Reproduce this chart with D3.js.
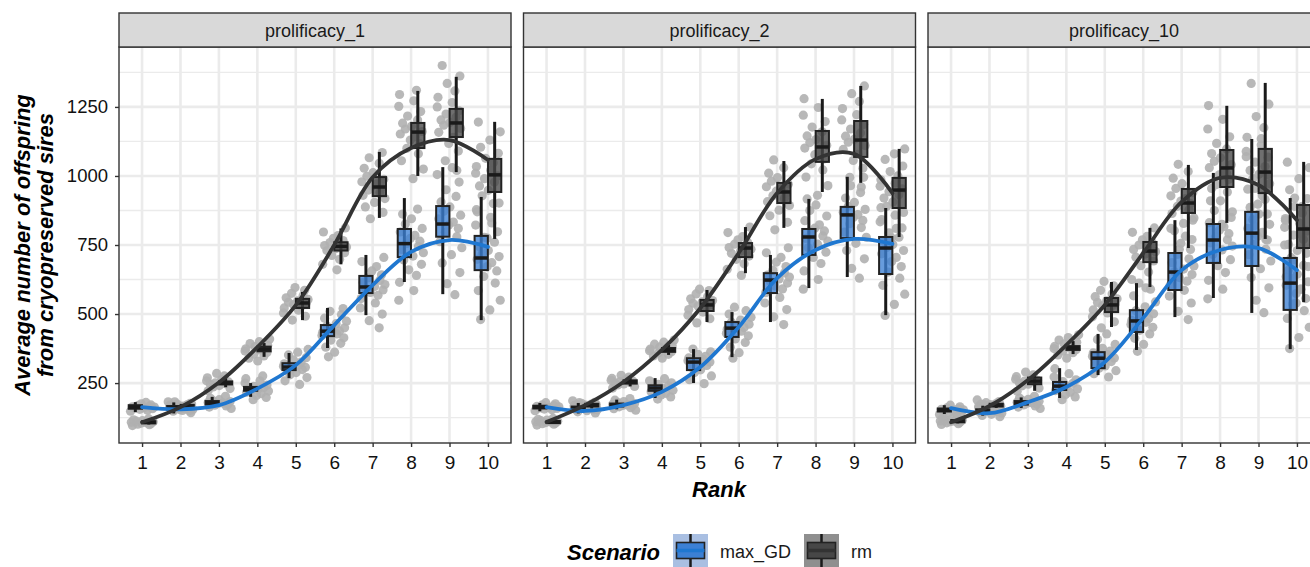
<!DOCTYPE html>
<html>
<head>
<meta charset="utf-8">
<script src="https://cdn.jsdelivr.net/npm/d3@7"></script>
<style>
  body { margin: 0; background: #ffffff; }
  text { font-family: "Liberation Sans", Arial, sans-serif; }
</style>
</head>
<body>
<div id="chart"></div>
<script>
// ---- data ----
var ranks = [1, 2, 3, 4, 5, 6, 7, 8, 9, 10];
var panels = ["prolificacy_1", "prolificacy_2", "prolificacy_10"];
var scenarios = ["max_GD", "rm"];
var yTicks = [250, 500, 750, 1000, 1250];
var yMinorTicks = [125, 375, 625, 875, 1125, 1375];

// box stats per rank: [lower whisker, q1, median, q3, upper whisker]
var boxP1Max = [[145,157,163,170,181],[140,153,160,167,180],[160,172,178,185,200],[200,222,228,236,250],[268,297,308,322,359],
                [377,420,438,460,522],[496,576,598,638,714],[616,706,755,808,920],[572,780,826,891,1032],[478,659,703,783,924]];
var boxP1Rm  = [[100,104,108,112,116],[155,162,167,171,178],[235,245,250,256,268],[345,365,373,382,395],[478,522,540,555,580],
                [680,730,745,760,810],[848,927,960,996,1087],[1000,1101,1159,1192,1308],[1014,1141,1192,1243,1359],[772,942,1004,1062,1196]];
var boxP2Max = [[148,158,163,168,178],[140,153,159,165,178],[155,165,170,176,190],[196,222,232,242,268],[250,297,326,340,373],
                [344,417,449,471,507],[471,576,623,648,714],[594,714,779,808,917],[634,775,859,888,997],[496,645,739,779,884]];
var boxP2Rm  = [[102,105,109,113,117],[158,165,170,175,182],[238,248,254,260,272],[352,363,370,377,388],[471,511,533,551,587],
                [648,706,739,757,815],[812,902,942,975,1054],[942,1051,1105,1163,1279],[975,1069,1130,1199,1326],[779,884,949,993,1098]];
var boxP3Max = [[138,147,152,158,170],[132,143,149,155,168],[160,172,178,185,198],[196,225,239,254,304],[279,304,340,362,428],
                [370,435,475,514,612],[489,587,652,721,840],[558,685,768,826,1011],[504,674,793,870,1134],[373,515,612,703,920]];
var boxP3Rm  = [[104,108,112,116,120],[160,165,170,175,182],[222,246,257,270,285],[355,370,377,384,402],[453,507,533,558,616],
                [598,688,728,761,812],[739,866,902,953,1040],[830,960,1029,1094,1254],[772,938,1014,1098,1337],[543,739,808,895,1051]];

// smoothed trend value at each rank
var smoothP1Max = [163,155,170,230,315,460,605,725,768,743];
var smoothP1Rm  = [108,163,252,380,532,750,995,1101,1130,1058];
var smoothP2Max = [163,149,170,218,308,453,630,732,772,754];
var smoothP2Rm  = [109,170,254,370,521,721,938,1061,1080,938];
var smoothP3Max = [159,141,181,236,326,486,659,732,739,659];
var smoothP3Rm  = [108,167,261,388,533,721,906,993,967,840];

// individual observations per rank
var ptsP1Max = [
  [148,152,155,157,159,161,163,164,166,168,171,175,180],
  [143,148,151,154,156,158,160,162,164,167,170,174,182],
  [158,163,167,170,173,176,178,180,183,186,190,195,202],
  [190,198,205,212,217,221,225,228,231,234,238,243,250,258,266,276],
  [245,258,270,280,288,294,299,303,307,311,315,320,326,334,342,352,362,372],
  [345,362,380,394,405,414,422,428,434,439,444,450,457,465,474,485,498,510,520],
  [450,476,500,522,540,556,568,578,587,594,600,607,614,622,631,642,656,672,690,705],
  [550,585,615,640,660,680,696,710,722,734,745,755,764,774,785,797,810,826,845,862,880],
  [570,610,650,685,715,740,762,780,796,810,822,833,845,858,872,888,906,926,950,978,1005,1030],
  [480,515,550,585,612,636,656,672,686,698,708,718,730,744,760,778,798,822,850,878,900]];
var ptsP1Rm = [
  [96,99,101,103,105,107,108,110,112,114,117,121],
  [150,154,158,161,163,165,167,169,171,174,177,182],
  [222,230,236,241,245,248,251,254,258,263,269,276,285],
  [330,340,348,355,361,366,370,374,378,382,387,393,400,410],
  [478,492,504,514,522,528,534,539,543,548,553,559,566,575,586,596],
  [660,680,698,712,722,730,737,743,748,753,759,766,774,784,797,812],
  [845,868,888,904,918,930,940,949,957,964,971,979,988,999,1012,1028,1046,1066,1085],
  [990,1025,1055,1080,1100,1116,1130,1142,1152,1161,1170,1180,1191,1203,1217,1233,1252,1272,1295,1310],
  [1020,1055,1090,1118,1140,1158,1172,1184,1194,1203,1213,1224,1236,1250,1266,1285,1308,1335,1362,1400],
  [775,830,870,902,928,948,964,978,990,1000,1010,1021,1034,1048,1064,1082,1104,1130,1160,1195]];
var ptsP2Max = [
  [150,153,156,158,160,162,164,166,168,171,175,179],
  [142,146,150,153,155,157,159,161,163,166,169,173,179],
  [152,157,161,164,167,169,171,173,176,179,183,188,194],
  [192,200,207,213,219,224,228,232,236,240,245,251,258,266],
  [248,262,276,288,298,306,314,320,326,331,336,341,347,354,363,373],
  [340,360,380,397,410,421,430,438,445,451,457,463,470,478,488,500,512,525],
  [462,490,516,540,560,577,591,602,612,620,627,634,641,649,659,672,688,705,722,740],
  [590,625,656,683,705,724,740,753,764,774,783,792,801,811,823,838,855,875,895,917],
  [630,665,700,730,756,778,797,813,827,839,850,860,869,879,890,904,920,940,965,995],
  [495,535,572,604,630,652,672,690,705,718,730,741,752,764,778,794,812,834,858,885]];
var ptsP2Rm = [
  [98,101,103,105,107,109,110,112,114,116,119,122],
  [154,158,161,164,166,168,170,172,174,177,180,186],
  [232,238,243,247,250,253,255,257,260,263,267,272,278],
  [340,348,354,359,363,367,370,373,376,380,385,391,398,406],
  [468,483,496,507,516,523,529,534,539,544,549,555,563,573,585,590],
  [640,662,682,698,710,720,728,735,741,747,753,760,769,780,795,815],
  [805,832,856,876,893,907,918,928,937,945,953,961,970,981,994,1010,1030,1058],
  [930,965,996,1022,1044,1062,1077,1090,1101,1111,1121,1132,1145,1160,1177,1197,1220,1248,1280],
  [960,995,1028,1056,1078,1096,1110,1122,1133,1144,1156,1170,1186,1203,1222,1244,1270,1298,1326],
  [775,810,842,868,890,906,920,932,943,953,963,974,986,1000,1016,1036,1060,1080,1098]];
var ptsP3Max = [
  [136,140,143,146,149,151,153,155,157,160,164,170],
  [128,133,137,141,144,147,149,151,154,157,161,166,172],
  [158,163,167,171,174,177,179,181,184,187,191,196,202],
  [190,200,209,217,223,229,234,239,244,249,255,262,272,284,302],
  [272,284,295,304,312,320,328,335,341,347,353,359,366,376,390,408,428],
  [365,390,412,428,441,452,462,470,477,484,492,501,512,526,544,566,590,612],
  [480,510,540,565,586,604,619,632,643,653,663,674,686,700,716,734,756,782,810,840],
  [555,590,622,650,675,697,716,732,746,758,769,780,791,803,816,831,850,875,910,955,1010],
  [505,550,595,632,664,692,715,735,752,768,782,796,810,825,842,862,886,915,955,1005,1070,1135],
  [375,415,452,484,512,536,556,574,590,604,617,630,644,659,676,696,720,750,790,840,890,920]];
var ptsP3Rm = [
  [100,103,106,108,110,112,113,115,117,119,122,126],
  [156,160,163,166,168,170,172,174,176,179,183,189],
  [220,232,240,246,250,254,257,260,264,268,273,280,290],
  [340,352,360,366,371,375,379,383,387,392,398,406,415,425],
  [450,472,490,504,515,523,530,536,542,548,555,563,573,586,602,618],
  [595,625,652,675,692,706,717,726,734,742,750,759,769,781,796,812],
  [735,770,802,828,848,864,878,890,900,909,918,928,940,955,972,992,1016,1042],
  [825,870,910,942,968,988,1004,1018,1030,1041,1053,1066,1081,1098,1118,1142,1170,1205,1255],
  [770,820,862,898,928,952,972,990,1006,1020,1034,1050,1068,1089,1112,1140,1175,1215,1260,1335],
  [540,590,635,672,704,730,752,770,786,800,814,829,846,866,890,918,950,990,1030,1050]];

// ---- layout ----
var svgWidth = 1310, svgHeight = 567;
var panelTop = 47, panelHeight = 396, panelWidth = 392, stripTop = 13;
var panelLefts = [119, 523.5, 928];

var colors = { max_GD: "#1f77d0", rm: "#333333" };
var boxFill = { max_GD: "#3c80d4", rm: "#474747" };
var keyBg = { max_GD: "#a9bfe2", rm: "#8f8f8f" };

// horizontal jitter pattern (fraction of a rank step)
var jitterPattern = [-0.30, 0.14, -0.06, 0.27, -0.19, 0.05, 0.32, -0.25, 0.19, -0.11, 0.23, -0.02,
                     0.10, -0.28, 0.29, -0.15, 0.01, -0.22, 0.17, -0.09, 0.25, -0.32, 0.07];

var panelData = [
  { name: panels[0], max_GD: { box: boxP1Max, smooth: smoothP1Max, pts: ptsP1Max }, rm: { box: boxP1Rm, smooth: smoothP1Rm, pts: ptsP1Rm } },
  { name: panels[1], max_GD: { box: boxP2Max, smooth: smoothP2Max, pts: ptsP2Max }, rm: { box: boxP2Rm, smooth: smoothP2Rm, pts: ptsP2Rm } },
  { name: panels[2], max_GD: { box: boxP3Max, smooth: smoothP3Max, pts: ptsP3Max }, rm: { box: boxP3Rm, smooth: smoothP3Rm, pts: ptsP3Rm } }
];

var svg = d3.select("#chart").append("svg")
  .attr("width", svgWidth)
  .attr("height", svgHeight)
  .style("display", "block");

svg.append("rect").attr("width", svgWidth).attr("height", svgHeight).attr("fill", "#ffffff");

var yScale = d3.scaleLinear().domain([33, 1467]).range([panelHeight, 0]);
var xScale = d3.scalePoint().domain(ranks).range([0, panelWidth]).padding(0.6);
var step = xScale.step();
var dodge = step * 0.175;
var boxW = step * 0.345;

panelData.forEach(function(pd, i) {
  var g = svg.append("g").attr("transform", `translate(${panelLefts[i]}, ${panelTop})`);

  // strip
  svg.append("rect")
    .attr("x", panelLefts[i]).attr("y", stripTop)
    .attr("width", panelWidth).attr("height", panelTop - stripTop)
    .attr("fill", "#d9d9d9").attr("stroke", "#333333").attr("stroke-width", 1.4);
  svg.append("text")
    .attr("x", panelLefts[i] + panelWidth / 2).attr("y", stripTop + 23.5)
    .attr("text-anchor", "middle").attr("font-size", "18px").attr("fill", "#1a1a1a")
    .text(pd.name);

  // grid
  g.selectAll(".minor").data(yMinorTicks).enter().append("line")
    .attr("x1", 0).attr("x2", panelWidth)
    .attr("y1", d => yScale(d)).attr("y2", d => yScale(d))
    .attr("stroke", "#ebebeb").attr("stroke-width", 1.3);
  g.selectAll(".majorY").data(yTicks).enter().append("line")
    .attr("x1", 0).attr("x2", panelWidth)
    .attr("y1", d => yScale(d)).attr("y2", d => yScale(d))
    .attr("stroke", "#ebebeb").attr("stroke-width", 2.6);
  g.selectAll(".majorX").data(ranks).enter().append("line")
    .attr("x1", d => xScale(d)).attr("x2", d => xScale(d))
    .attr("y1", 0).attr("y2", panelHeight)
    .attr("stroke", "#ebebeb").attr("stroke-width", 2.6);

  // jittered points
  scenarios.forEach(function(sc, s) {
    var pts = [];
    pd[sc].pts.forEach(function(vals, r) {
      vals.forEach(function(v, j) {
        pts.push({ rank: ranks[r], v: v, off: jitterPattern[(j + s * 7 + r * 3) % jitterPattern.length] });
      });
    });
    g.append("g").selectAll("circle").data(pts).enter().append("circle")
      .attr("cx", d => xScale(d.rank) + d.off * step)
      .attr("cy", d => yScale(d.v))
      .attr("r", 4.6)
      .attr("fill", "#b0b0b0")
      .attr("opacity", 0.9);
  });

  // boxplots
  scenarios.forEach(function(sc, s) {
    var off = s === 0 ? -dodge : dodge;
    var bg = g.append("g");
    var data = pd[sc].box.map((b, r) => ({ rank: ranks[r], b: b }));
    bg.selectAll(".whisker").data(data).enter().append("line")
      .attr("x1", d => xScale(d.rank) + off).attr("x2", d => xScale(d.rank) + off)
      .attr("y1", d => yScale(d.b[0])).attr("y2", d => yScale(d.b[4]))
      .attr("stroke", "#1a1a1a").attr("stroke-width", 3);
    bg.selectAll(".box").data(data).enter().append("rect")
      .attr("x", d => xScale(d.rank) + off - boxW / 2)
      .attr("width", boxW)
      .attr("y", d => yScale(d.b[3]))
      .attr("height", d => Math.max(1, yScale(d.b[1]) - yScale(d.b[3])))
      .attr("fill", boxFill[sc]).attr("fill-opacity", 0.78)
      .attr("stroke", "#222222").attr("stroke-width", 2);
    bg.selectAll(".median").data(data).enter().append("line")
      .attr("x1", d => xScale(d.rank) + off - boxW / 2).attr("x2", d => xScale(d.rank) + off + boxW / 2)
      .attr("y1", d => yScale(d.b[2])).attr("y2", d => yScale(d.b[2]))
      .attr("stroke", "#1a1a1a").attr("stroke-width", 3.5);
  });

  // smooth trend lines
  scenarios.forEach(function(sc) {
    var line = d3.line()
      .x((d, r) => xScale(ranks[r]))
      .y(d => yScale(d))
      .curve(d3.curveCatmullRom.alpha(0.5));
    g.append("path")
      .attr("d", line(pd[sc].smooth))
      .attr("fill", "none")
      .attr("stroke", colors[sc])
      .attr("stroke-width", 3.8)
      .attr("stroke-linecap", "round");
  });

  // panel border
  g.append("rect").attr("width", panelWidth).attr("height", panelHeight)
    .attr("fill", "none").attr("stroke", "#333333").attr("stroke-width", 1.4);

  // x axis
  var xAxis = g.append("g")
    .attr("transform", `translate(0, ${panelHeight})`)
    .call(d3.axisBottom(xScale).tickSize(4).tickPadding(9));
  xAxis.select(".domain").remove();
  xAxis.selectAll("line").attr("stroke", "#333333").attr("stroke-width", 1.4);
  xAxis.selectAll("text").attr("font-size", "19px").attr("fill", "#111111")
    .style("font-family", "'Liberation Sans', Arial, sans-serif");

  // y axis on first panel only
  if (i === 0) {
    var yAxis = g.append("g")
      .call(d3.axisLeft(yScale).tickValues(yTicks).tickFormat(d3.format("d")).tickSize(4).tickPadding(7));
    yAxis.select(".domain").remove();
    yAxis.selectAll("line").attr("stroke", "#333333").attr("stroke-width", 1.4);
    yAxis.selectAll("text").attr("font-size", "18.5px").attr("fill", "#111111")
      .style("font-family", "'Liberation Sans', Arial, sans-serif");
  }
});

// axis titles
svg.append("text")
  .attr("x", 719).attr("y", 497)
  .attr("text-anchor", "middle")
  .attr("font-size", "22px").attr("font-weight", "bold").attr("font-style", "italic")
  .text("Rank");

var yTitle = svg.append("text")
  .attr("transform", `translate(0, ${panelTop + panelHeight / 2}) rotate(-90)`)
  .attr("text-anchor", "middle")
  .attr("font-size", "22px").attr("font-weight", "bold").attr("font-style", "italic");
yTitle.append("tspan").attr("x", 0).attr("y", 30).text("Average number of offspring");
yTitle.append("tspan").attr("x", 0).attr("y", 53).text("from cryopreserved sires");

// legend
var legend = svg.append("g");
legend.append("text")
  .attr("x", 567).attr("y", 560)
  .attr("font-size", "22px").attr("font-weight", "bold").attr("font-style", "italic")
  .text("Scenario");

var keyX = [673, 804];
var labelX = [720, 851];
scenarios.forEach(function(sc, s) {
  var k = legend.append("g").attr("transform", `translate(${keyX[s]}, 534)`);
  k.append("rect").attr("width", 35).attr("height", 33).attr("fill", keyBg[sc]);
  k.append("line").attr("x1", 17.5).attr("x2", 17.5).attr("y1", 0).attr("y2", 33)
    .attr("stroke", "#1a1a1a").attr("stroke-width", 2.5);
  k.append("rect").attr("x", 3.5).attr("y", 8.5).attr("width", 28).attr("height", 16)
    .attr("fill", boxFill[sc]).attr("stroke", "#222222").attr("stroke-width", 1.6);
  k.append("line").attr("x1", 3.5).attr("x2", 31.5).attr("y1", 16.5).attr("y2", 16.5)
    .attr("stroke", sc === "rm" ? "#333333" : colors[sc]).attr("stroke-width", 3.5);
  legend.append("text")
    .attr("x", labelX[s]).attr("y", 558)
    .attr("font-size", "18px").attr("fill", "#1a1a1a")
    .text(sc);
});
</script>
</body>
</html>
